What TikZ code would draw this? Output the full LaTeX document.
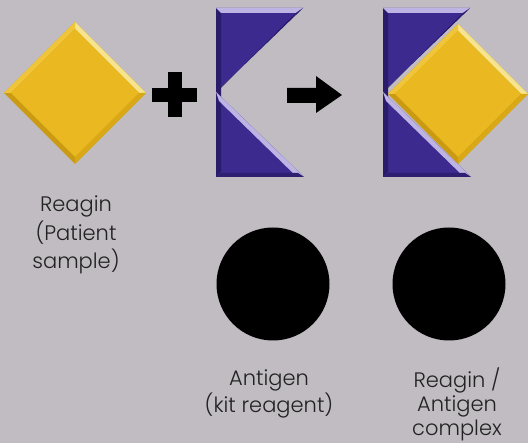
\documentclass[tikz,border=0pt]{standalone}
\usepackage{fontspec}
\setmainfont{Poppins Light}
\definecolor{bg}{HTML}{C0BCC1}
\definecolor{gold}{HTML}{EAB820}
\definecolor{goldlight}{HTML}{F6E38E}
\definecolor{goldmid}{HTML}{F0C53A}
\definecolor{golddark}{HTML}{C99A12}
\definecolor{goldshade}{HTML}{D9A816}
\definecolor{purp}{HTML}{3D2A8E}
\definecolor{purplight}{HTML}{BDB4E4}
\definecolor{purpdark}{HTML}{2A1C6A}
\definecolor{txt}{HTML}{222222}
\tikzset{
  lbl/.style={text=txt, align=center, inner sep=0pt},
  dot/.style={circle, fill=black, minimum size=113pt, inner sep=0pt},
  bar/.style={fill=black}
}
\newcommand{\beveldiamond}[3]{% cx, cy, R
  \fill[golddark] (#1-#3,#2) -- (#1,#2-#3) -- (#1+#3,#2) -- (#1,#2+#3) -- cycle;
  \fill[goldlight] (#1,#2-#3) -- (#1+#3,#2) -- (#1+#3-7,#2) -- (#1,#2-#3+7) -- cycle;
  \fill[goldmid] (#1-#3,#2) -- (#1,#2-#3) -- (#1,#2-#3+7) -- (#1-#3+7,#2) -- cycle;
  \fill[goldshade] (#1+#3,#2) -- (#1,#2+#3) -- (#1,#2+#3-7) -- (#1+#3-7,#2) -- cycle;
  \fill[gold] (#1-#3+7,#2) -- (#1,#2-#3+7) -- (#1+#3-7,#2) -- (#1,#2+#3-7) -- cycle;
}
\newcommand{\kshape}[1]{% x offset
  \begin{scope}[xshift=#1pt]
  \fill[purp] (216,8) -- (303,8) -- (216,92) -- (304,177) -- (216,177) -- cycle;
  \fill[purpdark] (216,8) -- (221,13) -- (221,172) -- (216,177) -- cycle;
  \fill[purplight] (216,8) -- (303,8) -- (296,13) -- (221,13) -- cycle;
  \fill[purpdark] (303,8) -- (216,92) -- (221,88) -- (296,13) -- cycle;
  \fill[purplight] (216,92) -- (304,177) -- (297,177) -- (219,101) -- cycle;
  \fill[purpdark!80!purp] (216,177) -- (304,177) -- (298,173) -- (221,173) -- cycle;
  \end{scope}
}
\begin{document}
\begin{tikzpicture}[x=1pt, y=-1pt]
\fill[bg] (0,0) rectangle (528,443);
\useasboundingbox (0,0) rectangle (528,443);
% reagin diamond
\beveldiamond{75}{93}{71}
% plus
\fill[bar] (168,72) rectangle (182,117);
\fill[bar] (152,88) rectangle (197,102);
% antigen K
\kshape{0}
% arrow
\fill[bar] (287,88) -- (316,88) -- (316,76) -- (342,95) -- (316,113) -- (316,103) -- (287,103) -- cycle;
% complex
\kshape{167}
\beveldiamond{458}{94}{70}
% circles
\node[dot] (c1) at (273,284) {};
\node[dot] (c2) at (449,284) {};
% labels
\node[lbl, font=\fontsize{21}{28.5}\selectfont] (l1) at (76,235) {Reagin\\(Patient\\sample)};
\node[lbl, font=\fontsize{21}{27}\selectfont] (l2) at (269,394) {Antigen\\(kit reagent)};
\node[lbl, font=\fontsize{21}{24}\selectfont] (l3) at (457,404) {Reagin /\\Antigen\\complex};
\end{tikzpicture}
\end{document}
